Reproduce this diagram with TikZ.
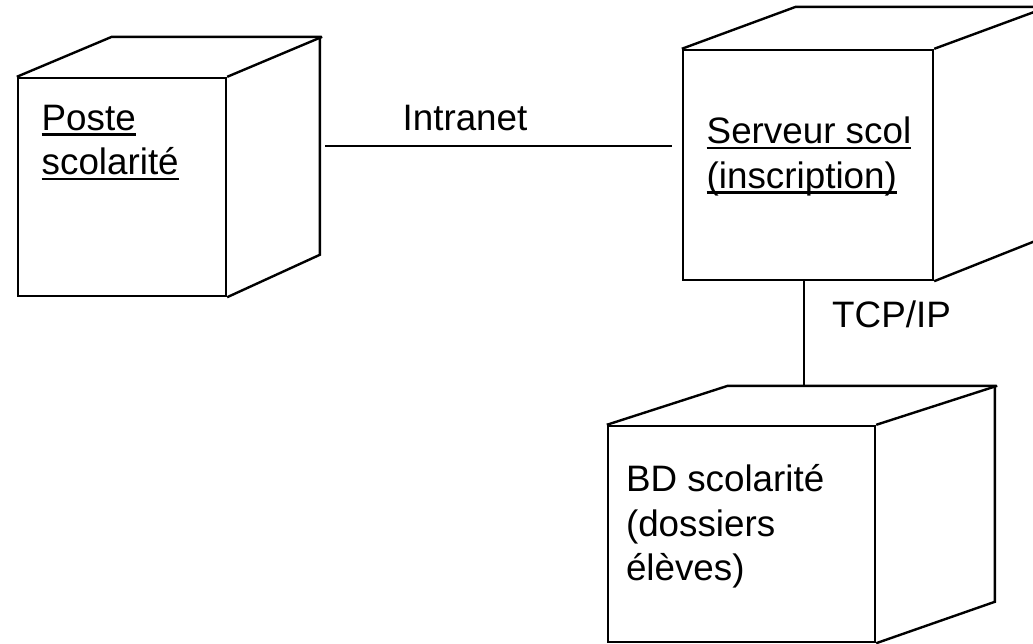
\documentclass[tikz,border=0pt]{standalone}
\usepackage{fontspec}
\setmainfont{Liberation Sans}
\usetikzlibrary{positioning}

\newcommand{\souligne}[1]{\setbox0\hbox{#1}\rlap{\rule[-5.5pt]{\wd0}{2.5pt}}\box0}

\begin{document}
\begin{tikzpicture}[
  x=1pt, y=-1pt,
  line width=2.4pt,
  face/.style={rectangle, draw, inner sep=0pt},
  txt/.style={inner sep=0pt, align=left, font=\fontsize{36.8}{44.5}\selectfont},
  link/.style={line width=2pt}
]
  \useasboundingbox (0,0) rectangle (1033,643);

  % noeuds
  \node[face, minimum width=208pt, minimum height=218pt] (poste) at (122,187) {};
  \node[face, minimum width=250pt, minimum height=230pt] (serveur) at (808,165) {};
  \node[face, minimum width=267pt, minimum height=216pt] (bd) at (741.5,534) {};

  % profondeur des cubes
  \draw (poste.north west) -- ++(95,-40) -- ++(208,0) -- ++(0,218) -- (poste.south east);
  \draw (poste.north east) -- ++(95,-40);
  \draw (serveur.north west) -- ++(114,-42) -- ++(250,0) -- ++(0,230) -- (serveur.south east);
  \draw (serveur.north east) -- ++(114,-42);
  \draw (bd.north west) -- ++(121,-39) -- ++(267,0) -- ++(0,216) -- (bd.south east);
  \draw (bd.north east) -- ++(121,-39);

  % textes (base = derniere ligne)
  \node[txt, below right=98pt and 23.7pt of poste.north west, anchor=base west] (posteTxt)
    {\souligne{Poste}\\\souligne{scolarité}};
  \node[txt, below right=139.5pt and 23.7pt of serveur.north west, anchor=base west] (serveurTxt)
    {\souligne{Serveur scol}\\\souligne{(inscription)}};
  \node[txt, below right=156pt and 18pt of bd.north west, anchor=base west] (bdTxt)
    {BD scolarité\\(dossiers\\élèves)};

  % liaisons
  \coordinate (lanL) at (325,146);
  \coordinate (lanR) at (672,146);
  \coordinate (bdback) at ([shift={(121,-39)}]bd.north west);
  \draw[link] (lanL) -- (lanR);
  \draw[link] ([xshift=-4pt]serveur.south) -- ([xshift=-4pt]serveur.south |- bdback);
  \node[txt, anchor=base] (intranet) at (465,130) {Intranet};
  \node[txt, anchor=base west] (tcp) at (831,327) {TCP/IP};
\end{tikzpicture}
\end{document}
